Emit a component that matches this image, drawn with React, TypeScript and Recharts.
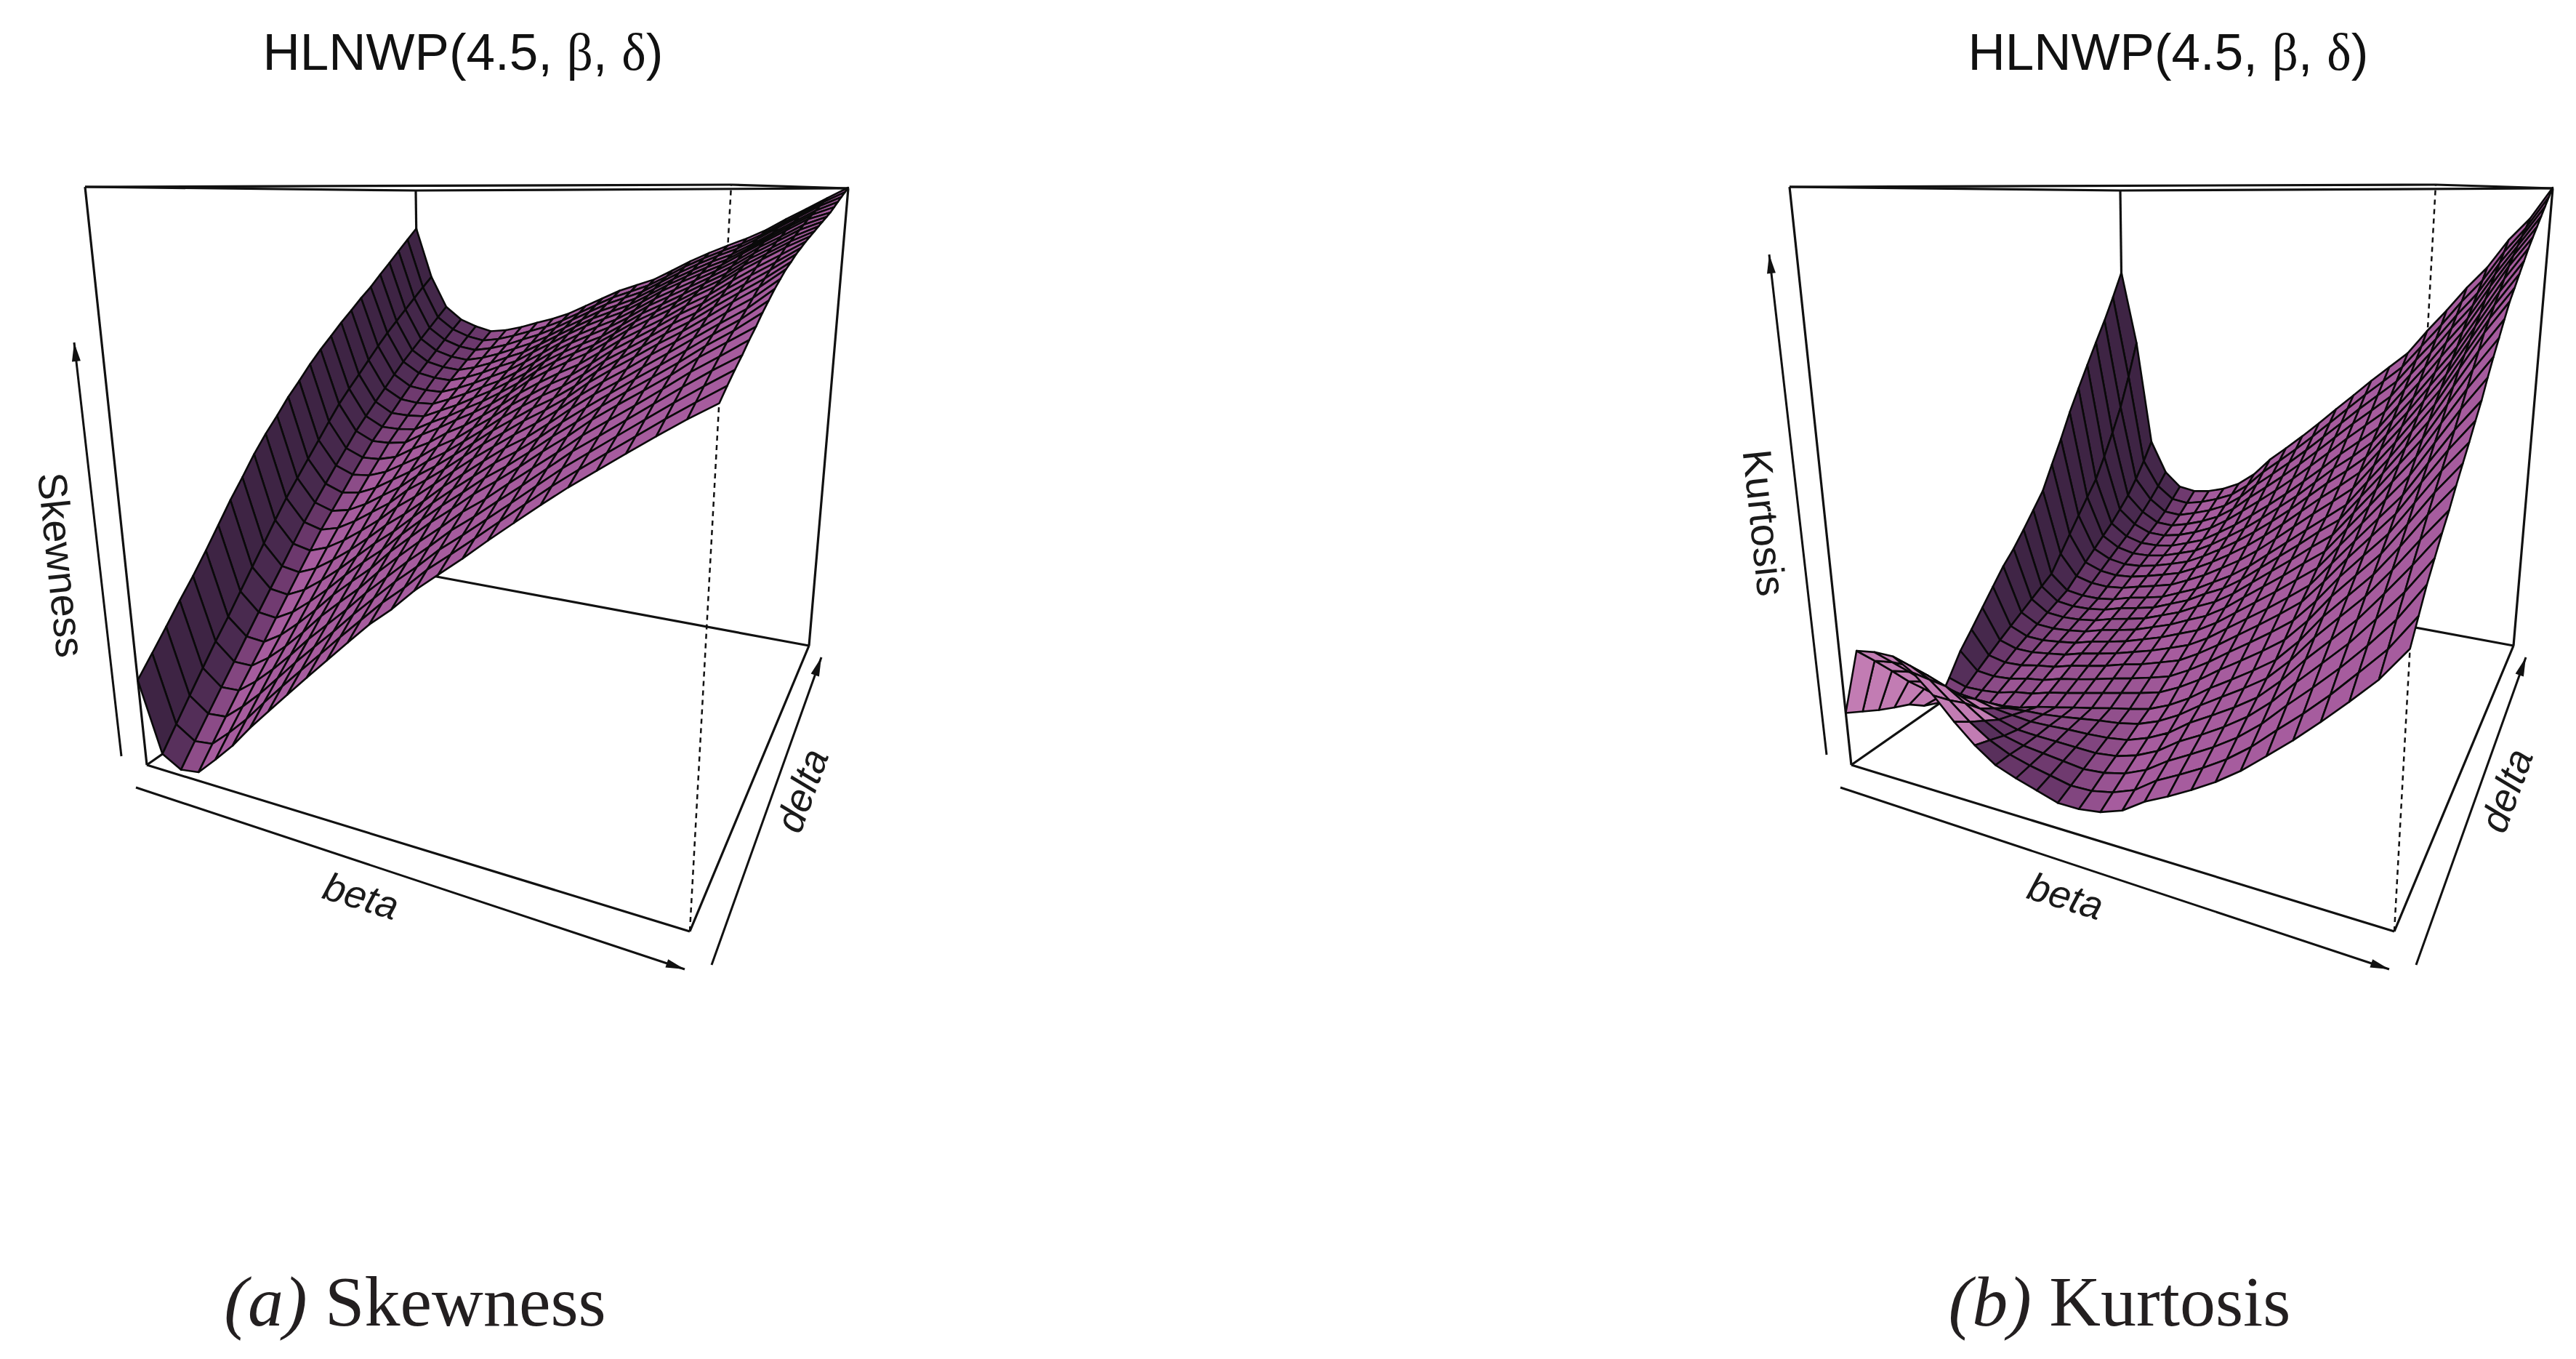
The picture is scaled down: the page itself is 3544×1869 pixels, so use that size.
import * as React from "react";
import { ScatterChart, Scatter, XAxis, YAxis } from "recharts";

// surface heights in per mille of the box height, one row per delta step, one column per beta step
const skewnessRows = [
  [147,28,10,15,45,77,115,150,185,220,255,290,325,355,390,420,450,482,513,544,574,602,630,658,685,710],
  [178,61,40,44,72,103,139,174,208,242,277,311,345,375,409,438,468,499,530,561,590,618,646,674,701,727],
  [210,94,70,73,99,129,163,198,231,264,299,332,365,395,428,456,486,516,547,578,606,634,662,690,717,743],
  [243,127,100,102,126,155,187,222,254,286,321,353,385,415,447,474,504,533,564,595,622,650,678,706,733,758],
  [275,160,130,130,152,180,212,247,278,308,343,375,406,435,466,492,522,551,580,611,638,665,693,722,748,775],
  [310,191,161,158,178,206,237,271,301,330,365,396,427,455,485,511,539,569,597,628,655,681,708,738,764,790],
  [347,225,192,188,206,232,261,293,323,351,384,415,445,473,502,527,555,585,613,642,669,695,722,751,777,807],
  [385,259,223,218,234,258,285,315,345,372,403,434,463,491,519,543,571,601,629,656,683,709,736,764,790,822],
  [420,293,254,248,262,284,309,337,367,393,422,453,481,509,536,559,587,617,645,670,697,723,750,777,803,837],
  [457,328,286,278,290,310,334,360,390,415,443,472,500,526,552,576,603,633,660,685,712,737,763,791,817,850],
  [490,362,318,308,317,336,359,382,412,436,462,490,518,543,569,592,618,649,675,700,726,750,777,805,831,863],
  [520,393,347,335,342,359,381,403,431,454,480,507,535,560,585,607,633,663,688,713,739,762,790,817,843,873],
  [552,424,376,362,367,382,403,424,450,472,498,524,552,577,601,622,648,677,701,726,752,774,803,829,855,884],
  [580,455,405,390,393,405,425,445,470,490,516,541,569,593,617,637,663,691,715,739,765,787,815,841,866,893],
  [610,487,433,417,418,427,448,466,490,509,533,558,586,610,632,652,678,705,728,751,777,799,827,853,877,902],
  [637,518,462,444,444,449,470,488,509,528,550,575,604,627,648,668,693,719,742,764,789,811,840,865,889,910],
  [662,545,487,467,466,469,488,505,525,544,566,590,618,641,661,680,705,731,753,775,799,821,850,874,898,918],
  [688,571,512,490,488,490,506,522,541,560,582,605,632,654,674,692,717,743,764,786,809,831,860,883,907,926],
  [712,598,536,514,509,510,524,540,558,575,597,621,646,668,687,706,729,755,776,797,819,842,869,893,917,934],
  [737,625,561,537,531,530,542,557,574,591,613,636,660,681,700,718,741,766,787,808,829,852,879,902,926,942],
  [760,651,585,561,553,550,560,574,591,606,629,651,674,695,713,730,753,778,799,819,838,863,888,912,936,950],
  [787,675,607,582,572,568,577,590,606,621,642,664,686,707,724,741,764,788,809,829,847,871,896,920,944,960],
  [813,699,629,603,591,586,594,606,621,636,655,677,698,719,735,752,775,798,819,839,856,879,904,928,952,970],
  [840,723,651,624,610,604,611,622,637,651,669,690,711,731,747,763,786,809,830,849,866,888,913,937,961,980],
  [867,747,673,645,630,622,628,639,652,665,682,702,723,743,758,774,796,820,840,858,875,896,921,945,969,990],
  [894,770,695,665,650,640,645,655,668,680,695,715,735,755,770,785,807,830,850,868,885,905,930,953,977,1000],
];

const kurtosisRows = [
  [90,205,210,210,190,160,125,95,72,60,50,40,40,45,57,80,97,116,137,162,192,223,257,293,331,380],
  [75,172,177,178,162,135,107,85,70,61,54,47,48,55,68,92,110,129,151,178,211,243,278,317,357,410],
  [60,138,144,146,134,113,91,74,66,62,58,54,57,65,80,103,122,142,165,194,230,264,300,340,384,440],
  [47,103,110,110,99,86,75,66,64,63,62,61,65,75,91,115,134,155,179,210,248,284,321,364,410,465],
  [35,72,78,80,77,69,65,62,63,65,66,68,73,85,102,127,147,168,192,226,267,304,342,388,437,490],
  [15,40,47,50,53,52,55,57,61,66,71,75,82,95,114,138,160,182,206,242,286,325,364,411,463,513],
  [3,10,15,20,30,35,45,52,60,67,75,82,90,105,125,150,172,195,220,258,305,345,385,435,490,540],
  [35,25,26,30,39,44,54,61,69,77,85,93,102,119,140,165,188,212,238,277,324,365,406,459,515,565],
  [72,40,37,40,48,53,63,70,78,87,95,104,114,133,155,180,204,229,256,296,343,385,427,483,540,590],
  [100,55,48,50,57,62,72,79,87,97,105,116,127,147,170,195,220,246,274,316,362,405,449,507,565,617],
  [130,70,60,60,65,70,80,87,95,105,115,127,140,160,185,210,235,262,290,335,380,425,470,530,590,643],
  [160,84,70,69,73,78,88,95,103,114,125,139,153,174,200,226,252,280,308,354,400,447,494,556,618,675],
  [190,98,80,78,81,86,96,103,111,123,135,151,166,188,215,242,269,298,326,373,420,469,518,582,646,705],
  [215,112,90,87,89,94,104,111,119,132,145,163,179,202,230,258,286,316,344,392,440,491,542,608,674,733],
  [245,126,100,96,97,102,112,119,127,141,155,175,192,216,245,274,303,334,362,411,460,513,566,634,702,762],
  [277,140,110,105,105,110,120,127,135,150,165,185,205,230,260,290,320,350,380,430,480,535,590,660,730,790],
  [310,172,128,119,117,121,130,138,147,163,180,201,223,249,279,310,341,371,402,452,502,557,612,682,752,812],
  [360,204,146,133,129,132,140,149,159,176,195,217,241,268,298,330,362,392,424,474,524,579,634,704,774,835],
  [410,236,164,147,141,143,150,160,171,189,210,233,259,287,317,350,383,413,446,496,546,601,656,726,796,857],
  [465,268,182,161,153,154,160,171,183,202,225,249,277,306,336,370,404,434,468,518,568,623,678,748,818,880],
  [515,300,200,175,165,165,170,182,195,217,240,267,295,325,357,390,425,457,490,542,593,648,703,772,841,900],
  [565,345,222,192,177,176,183,195,210,233,260,288,317,348,381,415,450,483,516,568,618,673,726,795,860,920],
  [615,395,245,210,190,188,197,209,225,249,280,309,339,371,405,440,475,508,542,593,643,698,749,817,878,940],
  [665,450,275,230,205,202,212,224,240,266,300,330,361,394,429,464,500,534,568,619,668,722,772,838,896,960],
  [720,520,310,252,225,220,228,240,256,283,320,351,383,417,453,489,525,559,594,644,694,748,796,860,913,980],
  [780,600,350,277,245,239,244,255,272,300,340,372,405,440,477,513,550,585,620,673,722,775,822,884,932,1000],
];

const WIDTH = 3544;
const HEIGHT = 1869;
const PANEL_B_SHIFT = 2345;

// corners of the persp box: front/back, left/right
const FL = [202, 1052];
const FR = [949, 1281];
const BR = [1113, 888];
const BL = [579, 789];
const TOP_FL = [117, 257];
const TOP_FR = [1006, 254];
const TOP_BR = [1167, 259];
const TOP_BL = [572, 262];
const TOP_Y = 258;

const dx1 = FR[0] - BR[0];
const dy1 = FR[1] - BR[1];
const dx2 = BL[0] - BR[0];
const dy2 = BL[1] - BR[1];
const sx = FL[0] - FR[0] + BR[0] - BL[0];
const sy = FL[1] - FR[1] + BR[1] - BL[1];
const det = dx1 * dy2 - dy1 * dx2;
const g = (sx * dy2 - sy * dx2) / det;
const h = (dx1 * sy - dy1 * sx) / det;

// perspective projection of (beta, delta, height) onto the page
const project = (u: number, v: number, w: number, shift: number) => {
  const d = 1 + g * u + h * v;
  const gx = (FL[0] + u * (FR[0] - FL[0] + g * FR[0]) + v * (BL[0] - FL[0] + h * BL[0])) / d;
  const gy = (FL[1] + u * (FR[1] - FL[1] + g * FR[1]) + v * (BL[1] - FL[1] + h * BL[1])) / d;
  const tx =
    (TOP_FL[0] * (1 - u) * (1 - v) +
      TOP_FR[0] * (1 + g) * u * (1 - v) +
      TOP_BL[0] * (1 + h) * (1 - u) * v +
      TOP_BR[0] * (1 + g + h) * u * v) /
    d;
  return { px: gx + w * (tx - gx) + shift, py: gy + w * (TOP_Y - gy) };
};

const toNodes = (rows: number[][], shift: number) => {
  const nodes: { px: number; py: number }[] = [];
  rows.forEach((row, j) =>
    row.forEach((value, k) => {
      nodes.push(project(k / (row.length - 1), j / (rows.length - 1), value / 1000, shift));
    })
  );
  return nodes;
};

const mix = (a: number[], b: number[], t: number) => {
  const c = a.map((x, i) => Math.round(x + (b[i] - x) * t));
  return `rgb(${c[0]},${c[1]},${c[2]})`;
};

const facetColor = (rows: number[][], j: number, k: number) => {
  const n = rows.length - 1;
  const du = ((rows[j][k + 1] - rows[j][k] + rows[j + 1][k + 1] - rows[j + 1][k]) / 2000) * n;
  const dv = ((rows[j + 1][k] - rows[j][k] + rows[j + 1][k + 1] - rows[j][k + 1]) / 2000) * n;
  if (dv < -0.35) return "#c27cb3";
  if (du < -0.7) return mix([74, 42, 80], [62, 36, 68], Math.min(1, (-du - 0.7) / 2));
  if (du < -0.12) return mix([112, 58, 112], [74, 42, 80], (-du - 0.12) / 0.58);
  if (du < 0.3) return mix([166, 92, 158], [112, 58, 112], (0.3 - du) / 0.42);
  return "#a65c9e";
};

// Scatter hands its scaled points to this as the "line" element
const SurfaceMesh = ({ points, rows }: any) => {
  const n = rows[0].length;
  const facets: React.ReactNode[] = [];
  for (let j = rows.length - 2; j >= 0; j--) {
    for (let k = 0; k < n - 1; k++) {
      const corners = [j * n + k, j * n + k + 1, (j + 1) * n + k + 1, (j + 1) * n + k].map((i) => points[i]);
      facets.push(
        <polygon
          key={`${j}-${k}`}
          points={corners.map((p: any) => `${p.x},${p.y}`).join(" ")}
          fill={facetColor(rows, j, k)}
          stroke="#0a0a0a"
          strokeWidth={2.6}
          strokeLinejoin="round"
        />
      );
    }
  }
  return <g>{facets}</g>;
};

const ArrowLine = ({ points }: any) => {
  const [a, b] = points;
  const len = Math.hypot(b.x - a.x, b.y - a.y);
  const ux = (b.x - a.x) / len;
  const uy = (b.y - a.y) / len;
  const head = 26;
  const half = 6;
  const bx = b.x - ux * head;
  const by = b.y - uy * head;
  return (
    <g>
      <line x1={a.x} y1={a.y} x2={b.x} y2={b.y} stroke="#111" strokeWidth={3} />
      <polygon
        points={`${b.x},${b.y} ${bx - uy * half},${by + ux * half} ${bx + uy * half},${by - ux * half}`}
        fill="#111"
      />
    </g>
  );
};

const noDot = () => <g />;

const boxEdges = [
  [TOP_FL, TOP_BL],
  [TOP_BL, TOP_BR],
  [TOP_FL, TOP_FR],
  [TOP_FR, TOP_BR],
  [FL, FR],
  [FR, BR],
  [BR, BL],
  [BL, FL],
  [FL, TOP_FL],
  [BR, TOP_BR],
  [BL, TOP_BL],
];

const betaArrow = [[187, 1083], [942, 1333]];
const deltaArrow = [[979, 1327], [1130, 904]];
const zArrowA = [[167, 1040], [102, 471]];
const zArrowB = [[168, 1038], [89, 350]];

const seg = (pair: number[][], shift: number) => pair.map((p) => ({ px: p[0] + shift, py: p[1] }));

const frame = (shift: number, zArrow: number[][], id: string) => (
  <React.Fragment key={id}>
    {boxEdges.map((edge, i) => (
      <Scatter
        key={`${id}-edge-${i}`}
        data={seg(edge, shift)}
        shape={noDot}
        line={{ stroke: "#111", strokeWidth: 3.2 }}
        isAnimationActive={false}
      />
    ))}
    <Scatter
      data={seg([FR, TOP_FR], shift)}
      shape={noDot}
      line={{ stroke: "#111", strokeWidth: 2.5, strokeDasharray: "7 6" }}
      isAnimationActive={false}
    />
    {[betaArrow, deltaArrow, zArrow].map((arrow, i) => (
      <Scatter
        key={`${id}-arrow-${i}`}
        data={seg(arrow, shift)}
        shape={noDot}
        line={<ArrowLine />}
        isAnimationActive={false}
      />
    ))}
  </React.Fragment>
);

const label = (text: string, x: number, y: number, angle: number, size: number, italic = false) => (
  <div
    style={{
      position: "absolute",
      left: x,
      top: y,
      transform: `translate(-50%,-50%) rotate(${angle}deg)`,
      fontFamily: "'Liberation Sans', Arial, sans-serif",
      fontSize: size,
      fontStyle: italic ? "italic" : "normal",
      color: "#1a1a1a",
      whiteSpace: "nowrap",
      lineHeight: 1,
    }}
  >
    {text}
  </div>
);

const title = (x: number) => (
  <div
    style={{
      position: "absolute",
      left: x,
      top: 72,
      transform: "translate(-50%,-50%)",
      fontFamily: "'Liberation Sans', Arial, sans-serif",
      fontSize: 71,
      color: "#111",
      whiteSpace: "nowrap",
      lineHeight: 1,
    }}
  >
    HLNWP(4.5, <span style={{ fontFamily: "'Liberation Serif', serif" }}>β</span>,{" "}
    <span style={{ fontFamily: "'Liberation Serif', serif" }}>δ</span>)
  </div>
);

const caption = (x: number, tag: string, name: string) => (
  <div
    style={{
      position: "absolute",
      left: x,
      top: 1790,
      transform: "translate(-50%,-50%)",
      fontFamily: "'Liberation Serif', serif",
      fontSize: 98,
      color: "#231f20",
      whiteSpace: "nowrap",
      lineHeight: 1,
    }}
  >
    <span style={{ fontStyle: "italic" }}>({tag})</span> {name}
  </div>
);

export default function App() {
  return (
    <div style={{ position: "absolute", left: 0, top: 0, width: WIDTH, height: HEIGHT, background: "#fff", overflow: "hidden" }}>
      <ScatterChart width={WIDTH} height={HEIGHT} margin={{ top: 0, right: 0, bottom: 0, left: 0 }}>
        <XAxis type="number" dataKey="px" domain={[0, WIDTH]} hide />
        <YAxis type="number" dataKey="py" domain={[0, HEIGHT]} reversed hide />
        {frame(0, zArrowA, "a")}
        {frame(PANEL_B_SHIFT, zArrowB, "b")}
        <Scatter
          data={toNodes(skewnessRows, 0)}
          shape={noDot}
          line={<SurfaceMesh rows={skewnessRows} />}
          isAnimationActive={false}
        />
        <Scatter
          data={toNodes(kurtosisRows, PANEL_B_SHIFT)}
          shape={noDot}
          line={<SurfaceMesh rows={kurtosisRows} />}
          isAnimationActive={false}
        />
      </ScatterChart>
      {title(637)}
      {title(2983)}
      {label("Skewness", 84, 777, 84, 56)}
      {label("Kurtosis", 2427, 719, 84, 56)}
      {label("beta", 497, 1232, 17, 54, true)}
      {label("beta", 2842, 1232, 17, 54, true)}
      {label("delta", 1103, 1087, -70, 54, true)}
      {label("delta", 3448, 1087, -70, 54, true)}
      {caption(571, "a", "Skewness")}
      {caption(2916, "b", "Kurtosis")}
    </div>
  );
}
